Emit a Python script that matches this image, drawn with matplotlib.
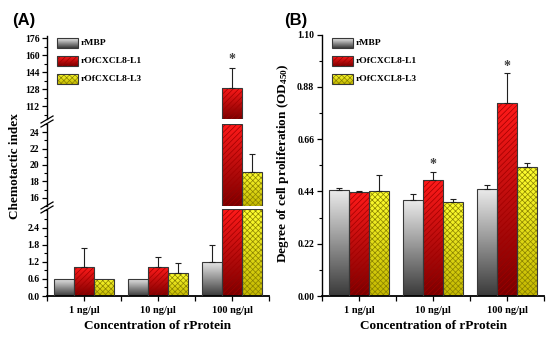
import numpy as np
import matplotlib
matplotlib.use("Agg")
import matplotlib.pyplot as plt
from matplotlib.patches import Rectangle
from matplotlib.lines import Line2D
from matplotlib.colors import LinearSegmentedColormap
from matplotlib.ticker import MultipleLocator, FormatStrFormatter

# data
groups = ["1 ng/\u03bcl", "10 ng/\u03bcl", "100 ng/\u03bcl"]
series = ["rMBP", "rOfCXCL8-L1", "rOfCXCL8-L3"]

# (A) chemotactic index
chemo_mbp = [0.6, 0.6, 1.2]
chemo_l1 = [1.0, 1.0, 129.5]
chemo_l3 = [0.6, 0.8, 19.2]
chemo_mbp_err = [0.0, 0.0, 0.6]
chemo_l1_err = [0.7, 0.35, 18.5]
chemo_l3_err = [0.0, 0.35, 2.1]

# (B) cell proliferation OD450
od_mbp = [0.447, 0.405, 0.451]
od_l1 = [0.436, 0.488, 0.811]
od_l3 = [0.443, 0.397, 0.541]
od_mbp_err = [0.008, 0.023, 0.017]
od_l1_err = [0.004, 0.032, 0.126]
od_l3_err = [0.066, 0.012, 0.017]

W, H = 550, 341
plt.rcParams['hatch.linewidth'] = 0.5
plt.rcParams['mathtext.fontset'] = 'custom'
plt.rcParams['mathtext.rm'] = 'Liberation Serif:bold'
plt.rcParams['mathtext.bf'] = 'Liberation Serif:bold'
plt.rcParams['mathtext.it'] = 'Liberation Serif:bold'
serif = "Liberation Serif"

styles = [
    dict(top="#ececec", bot="#3a3a3a", hatch=None, hcol=None),
    dict(top="#ff1a1a", bot="#7a0000", hatch="//////", hcol="#a00000"),
    dict(top="#ffff30", bot="#c4b800", hatch="xxxxxx", hcol="#8a8200"),
]


def box(l, t, r, b):
    return [l / W, 1 - b / H, (r - l) / W, (b - t) / H]


def grad_rect(ax, x0, y0, w, h, st, trans=None):
    trans = trans if trans is not None else ax.transData
    cmap = LinearSegmentedColormap.from_list("g", [st["bot"], st["top"]])
    grad = np.linspace(0, 1, 128).reshape(-1, 1)
    clip = Rectangle((x0, y0), w, h, transform=trans, facecolor="none", edgecolor="none")
    ax.add_patch(clip)
    im = ax.imshow(grad, cmap=cmap, extent=[x0, x0 + w, y0, y0 + h], origin="lower",
                   aspect="auto", transform=trans, zorder=2, interpolation="bilinear")
    im.set_clip_path(clip)
    if st["hatch"]:
        ax.add_patch(Rectangle((x0, y0), w, h, transform=trans, facecolor="none",
                               edgecolor=st["hcol"], lw=0, hatch=st["hatch"], zorder=2.5))
    ax.add_patch(Rectangle((x0, y0), w, h, transform=trans, facecolor="none",
                           edgecolor="#383838", lw=0.8, zorder=3))


def bold_ticks(ax):
    for lab in ax.get_yticklabels() + ax.get_xticklabels():
        lab.set_fontfamily(serif)
        lab.set_fontweight("bold")


def style_axis(ax, xaxis=True):
    for s in ["top", "right"]:
        ax.spines[s].set_visible(False)
    ax.spines["left"].set_linewidth(1.0)
    ax.spines["bottom"].set_linewidth(1.3)
    ax.tick_params(axis="y", which="major", length=3.5, width=0.9, labelsize=7, pad=2)
    ax.tick_params(axis="y", which="minor", length=2, width=0.8)
    ax.set_xlim(-0.5, 2.5)
    if xaxis:
        ax.set_xticks([0, 1, 2])
        ax.set_xticklabels(groups, fontsize=7.5)
        ax.set_xticks([-0.5, 0.5, 1.5, 2.5], minor=True)
        ax.tick_params(axis="x", which="both", length=3.5, width=0.9, pad=4)
        ax.set_xlabel("Concentration of rProtein", fontfamily=serif, fontweight="bold",
                      fontsize=9.5, labelpad=3)
    else:
        ax.spines["bottom"].set_visible(False)
        ax.set_xticks([])
    bold_ticks(ax)


def draw_bars(ax, vals_list, errs_list, ylo, yhi, errors=True):
    bw = 0.27
    x = np.arange(len(groups))
    for k, (vals, errs) in enumerate(zip(vals_list, errs_list)):
        xs = x + (k - 1) * bw
        for xi, v, e in zip(xs, vals, errs):
            lo = max(0, ylo)
            hi = min(v, yhi)
            if hi > lo:
                grad_rect(ax, xi - bw / 2, lo, bw, hi - lo, styles[k])
            if errors and ylo <= v <= yhi and e > 0:
                ax.errorbar(xi, v, yerr=[[0], [e]], color="#202020", lw=0.8,
                            capsize=2.5, capthick=0.8, zorder=4)


fig = plt.figure(figsize=(W / 100, H / 100), dpi=100)

# ---- panel A: broken axis with 3 segments
ax_bot = fig.add_axes(box(47, 209, 269, 296))
ax_mid = fig.add_axes(box(47, 124, 269, 206))
ax_top = fig.add_axes(box(47, 36, 269, 119))
limsA = [(ax_bot, 0, 3.05, [0, 0.6, 1.2, 1.8, 2.4], 0.3, "%.1f"),
         (ax_mid, 15, 25, [16, 18, 20, 22, 24], 1, "%d"),
         (ax_top, 100, 178, [112, 128, 144, 160, 176], 8, "%d")]
vA = [chemo_mbp, chemo_l1, chemo_l3]
eA = [chemo_mbp_err, chemo_l1_err, chemo_l3_err]
for ax, lo, hi, ticks, mnr, fmt in limsA:
    draw_bars(ax, vA, eA, lo, hi)
    ax.set_ylim(lo, hi)
    ax.set_yticks(ticks)
    ax.yaxis.set_minor_locator(MultipleLocator(mnr))
    ax.yaxis.set_major_formatter(FormatStrFormatter(fmt))
    style_axis(ax, xaxis=(ax is ax_bot))
    ax.patch.set_alpha(0)
ax_top.text(2, 150, "*", ha="center", va="bottom", fontsize=10, color="#404040",
            fontfamily=serif, fontweight="bold")

# break marks on the left spine
for yb in [207.5, 121.5]:
    for dy in [-2, 2]:
        fig.add_artist(Line2D([41 / W, 53 / W], [1 - (yb + dy + 3.5) / H, 1 - (yb + dy - 3.5) / H],
                              color="black", lw=0.9))

fig.text(15 / W, 1 - 166 / H, "Chemotactic index", rotation=90, ha="center", va="center",
         fontfamily=serif, fontweight="bold", fontsize=9.5)
fig.text(12 / W, 1 - 20 / H, "(A)", ha="left", va="center", fontfamily="Liberation Sans",
         fontweight="bold", fontsize=12)

# ---- panel B
axB = fig.add_axes(box(322, 34.7, 544, 296))
draw_bars(axB, [od_mbp, od_l1, od_l3], [od_mbp_err, od_l1_err, od_l3_err], 0, 1.10)
axB.set_ylim(0, 1.10)
axB.set_yticks([0, 0.22, 0.44, 0.66, 0.88, 1.10])
axB.yaxis.set_minor_locator(MultipleLocator(0.11))
axB.yaxis.set_major_formatter(FormatStrFormatter("%.2f"))
style_axis(axB)
axB.text(1, 0.527, "*", ha="center", va="bottom", fontsize=10, color="#404040",
         fontfamily=serif, fontweight="bold")
axB.text(2, 0.94, "*", ha="center", va="bottom", fontsize=10, color="#404040",
         fontfamily=serif, fontweight="bold")
fig.text(283 / W, 1 - 163 / H, "Degree of cell proliferation (OD$_{450}$)", rotation=90,
         ha="center", va="center", fontfamily=serif, fontweight="bold", fontsize=9.5)
fig.text(284 / W, 1 - 20 / H, "(B)", ha="left", va="center", fontfamily="Liberation Sans",
         fontweight="bold", fontsize=12)

# ---- legends drawn by hand (gradient swatches)
for ax, x0px in [(ax_top, 57), (axB, 332)]:
    bb = ax.get_position()
    for i, name in enumerate(series):
        yc = [43, 61, 79][i]
        ax_x = (x0px / W - bb.x0) / bb.width
        ax_w = (21 / W) / bb.width
        ax_y = ((1 - (yc + 5) / H) - bb.y0) / bb.height
        ax_h = (10 / H) / bb.height
        grad_rect(ax, ax_x, ax_y, ax_w, ax_h, styles[i], trans=ax.transAxes)
        ax.text(ax_x + ax_w + 3 / W / bb.width, ax_y + ax_h / 2, name, transform=ax.transAxes,
                ha="left", va="center", fontfamily=serif, fontweight="bold", fontsize=6.8)

ax_top.set_ylim(100, 178)
axB.set_ylim(0, 1.10)
for ax in [ax_top, axB]:
    ax.set_xlim(-0.5, 2.5)

fig.savefig("out.png", dpi=100)
